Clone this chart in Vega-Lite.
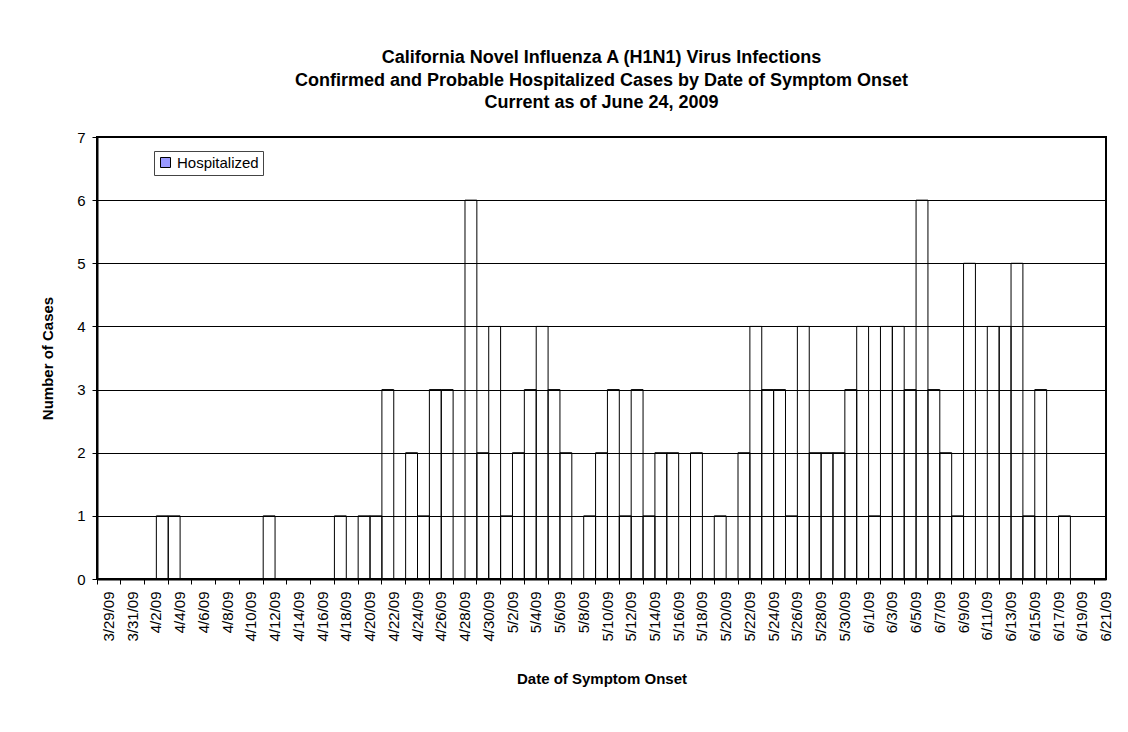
{
  "$schema": "https://vega.github.io/schema/vega-lite/v6.json",
  "autosize": "none",
  "width": 1009,
  "height": 442,
  "padding": {"left": 97, "top": 137, "right": 22, "bottom": 153},
  "background": "white",
  "title": {
    "text": [
      "California Novel Influenza A (H1N1) Virus Infections",
      "Confirmed and Probable Hospitalized Cases by Date of Symptom Onset",
      "Current as of June 24, 2009"
    ],
    "anchor": "middle",
    "font": "Liberation Sans",
    "fontSize": 18,
    "fontWeight": "bold",
    "color": "black",
    "lineHeight": 22.5,
    "offset": 18
  },
  "data": {
    "values": [
      {"date": "3/29/09", "cases": 0}, {"date": "3/30/09", "cases": 0}, {"date": "3/31/09", "cases": 0},
      {"date": "4/1/09", "cases": 0}, {"date": "4/2/09", "cases": 0}, {"date": "4/3/09", "cases": 1},
      {"date": "4/4/09", "cases": 1}, {"date": "4/5/09", "cases": 0}, {"date": "4/6/09", "cases": 0},
      {"date": "4/7/09", "cases": 0}, {"date": "4/8/09", "cases": 0}, {"date": "4/9/09", "cases": 0},
      {"date": "4/10/09", "cases": 0}, {"date": "4/11/09", "cases": 0}, {"date": "4/12/09", "cases": 1},
      {"date": "4/13/09", "cases": 0}, {"date": "4/14/09", "cases": 0}, {"date": "4/15/09", "cases": 0},
      {"date": "4/16/09", "cases": 0}, {"date": "4/17/09", "cases": 0}, {"date": "4/18/09", "cases": 1},
      {"date": "4/19/09", "cases": 0}, {"date": "4/20/09", "cases": 1}, {"date": "4/21/09", "cases": 1},
      {"date": "4/22/09", "cases": 3}, {"date": "4/23/09", "cases": 0}, {"date": "4/24/09", "cases": 2},
      {"date": "4/25/09", "cases": 1}, {"date": "4/26/09", "cases": 3}, {"date": "4/27/09", "cases": 3},
      {"date": "4/28/09", "cases": 0}, {"date": "4/29/09", "cases": 6}, {"date": "4/30/09", "cases": 2},
      {"date": "5/1/09", "cases": 4}, {"date": "5/2/09", "cases": 1}, {"date": "5/3/09", "cases": 2},
      {"date": "5/4/09", "cases": 3}, {"date": "5/5/09", "cases": 4}, {"date": "5/6/09", "cases": 3},
      {"date": "5/7/09", "cases": 2}, {"date": "5/8/09", "cases": 0}, {"date": "5/9/09", "cases": 1},
      {"date": "5/10/09", "cases": 2}, {"date": "5/11/09", "cases": 3}, {"date": "5/12/09", "cases": 1},
      {"date": "5/13/09", "cases": 3}, {"date": "5/14/09", "cases": 1}, {"date": "5/15/09", "cases": 2},
      {"date": "5/16/09", "cases": 2}, {"date": "5/17/09", "cases": 0}, {"date": "5/18/09", "cases": 2},
      {"date": "5/19/09", "cases": 0}, {"date": "5/20/09", "cases": 1}, {"date": "5/21/09", "cases": 0},
      {"date": "5/22/09", "cases": 2}, {"date": "5/23/09", "cases": 4}, {"date": "5/24/09", "cases": 3},
      {"date": "5/25/09", "cases": 3}, {"date": "5/26/09", "cases": 1}, {"date": "5/27/09", "cases": 4},
      {"date": "5/28/09", "cases": 2}, {"date": "5/29/09", "cases": 2}, {"date": "5/30/09", "cases": 2},
      {"date": "5/31/09", "cases": 3}, {"date": "6/1/09", "cases": 4}, {"date": "6/2/09", "cases": 1},
      {"date": "6/3/09", "cases": 4}, {"date": "6/4/09", "cases": 4}, {"date": "6/5/09", "cases": 3},
      {"date": "6/6/09", "cases": 6}, {"date": "6/7/09", "cases": 3}, {"date": "6/8/09", "cases": 2},
      {"date": "6/9/09", "cases": 1}, {"date": "6/10/09", "cases": 5}, {"date": "6/11/09", "cases": 0},
      {"date": "6/12/09", "cases": 4}, {"date": "6/13/09", "cases": 4}, {"date": "6/14/09", "cases": 5},
      {"date": "6/15/09", "cases": 1}, {"date": "6/16/09", "cases": 3}, {"date": "6/17/09", "cases": 0},
      {"date": "6/18/09", "cases": 1}, {"date": "6/19/09", "cases": 0}, {"date": "6/20/09", "cases": 0},
      {"date": "6/21/09", "cases": 0}
    ]
  },
  "mark": {"type": "bar", "fillOpacity": 0, "stroke": "black", "strokeWidth": 1},
  "encoding": {
    "x": {
      "field": "date",
      "type": "ordinal",
      "sort": null,
      "scale": {"paddingInner": 0, "paddingOuter": 0},
      "axis": {
        "title": "Date of Symptom Onset",
        "values": ["3/29/09", "3/31/09", "4/2/09", "4/4/09", "4/6/09", "4/8/09", "4/10/09", "4/12/09",
                   "4/14/09", "4/16/09", "4/18/09", "4/20/09", "4/22/09", "4/24/09", "4/26/09", "4/28/09",
                   "4/30/09", "5/2/09", "5/4/09", "5/6/09", "5/8/09", "5/10/09", "5/12/09", "5/14/09",
                   "5/16/09", "5/18/09", "5/20/09", "5/22/09", "5/24/09", "5/26/09", "5/28/09", "5/30/09",
                   "6/1/09", "6/3/09", "6/5/09", "6/7/09", "6/9/09", "6/11/09", "6/13/09", "6/15/09",
                   "6/17/09", "6/19/09", "6/21/09"],
        "bandPosition": 0,
        "labelOffset": 6,
        "labelAngle": 270,
        "labelAlign": "right",
        "labelBaseline": "middle",
        "labelFont": "Liberation Sans",
        "labelFontSize": 15,
        "labelColor": "black",
        "labelPadding": 7,
        "labelOverlap": false,
        "tickSize": 5,
        "tickColor": "black",
        "domainColor": "black",
        "domainWidth": 2,
        "titleFont": "Liberation Sans",
        "titleFontSize": 15,
        "titleFontWeight": "bold",
        "titleColor": "black",
        "titlePadding": 30
      }
    },
    "y": {
      "field": "cases",
      "type": "quantitative",
      "scale": {"domain": [0, 7], "nice": false},
      "axis": {
        "title": "Number of Cases",
        "values": [0, 1, 2, 3, 4, 5, 6, 7],
        "grid": true,
        "gridColor": "black",
        "gridWidth": 1,
        "gridOpacity": 1,
        "tickSize": 5,
        "tickColor": "black",
        "domainColor": "black",
        "domainWidth": 2,
        "labelFont": "Liberation Sans",
        "labelFontSize": 15,
        "labelColor": "black",
        "labelPadding": 7,
        "titleFont": "Liberation Sans",
        "titleFontSize": 15,
        "titleFontWeight": "bold",
        "titleColor": "black",
        "titlePadding": 21
      }
    },
    "fill": {
      "datum": "Hospitalized",
      "type": "nominal",
      "scale": {"range": ["#9999FF"]},
      "legend": {
        "title": null,
        "orient": "none",
        "legendX": 57,
        "legendY": 14,
        "padding": 4,
        "strokeColor": "#444444",
        "fillColor": "white",
        "symbolType": "square",
        "symbolSize": 100,
        "symbolStrokeColor": "black",
        "symbolStrokeWidth": 1,
        "symbolOpacity": 1,
        "labelFont": "Liberation Sans",
        "labelFontSize": 15,
        "labelColor": "black",
        "labelOffset": 4,
        "encode": {"symbols": {"update": {"fillOpacity": {"value": 1}}}}
      }
    }
  },
  "config": {
    "view": {"stroke": "black", "strokeWidth": 2}
  }
}
